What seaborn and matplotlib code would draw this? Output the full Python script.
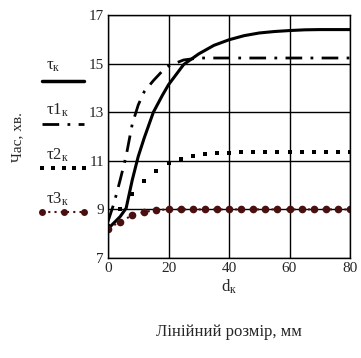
import numpy as np
import pandas as pd
import matplotlib
matplotlib.use('Agg')
import matplotlib.pyplot as plt
import seaborn as sns
from matplotlib.lines import Line2D

# data
d = [0, 2, 4, 6, 8, 10, 12, 15, 18, 20, 25, 30, 35, 40, 45, 50, 55, 60, 65, 70, 75, 80]
tau = [8.2, 8.45, 8.7, 9.05, 10.2, 11.18, 11.95, 13.0, 13.7, 14.13, 14.96, 15.4, 15.75,
       15.98, 16.15, 16.26, 16.32, 16.36, 16.39, 16.4, 16.4, 16.4]
tau1 = [8.5, 9.26, 10.2, 11.2, 12.5, 13.3, 13.85, 14.3, 14.7, 14.9, 15.15, 15.23, 15.23,
        15.23, 15.23, 15.23, 15.23, 15.23, 15.23, 15.23, 15.23, 15.23]

# tau2 and tau3 are sampled every 4 mm in the picture
d_step = [0, 4, 8, 12, 16, 20, 24, 28, 32, 36, 40, 44, 48, 52, 56, 60, 64, 68, 72, 76, 80]
tau2 = [8.3, 9.0, 9.65, 10.16, 10.6, 10.9, 11.08, 11.2, 11.28, 11.32, 11.34, 11.35, 11.36,
        11.36, 11.36, 11.36, 11.36, 11.36, 11.36, 11.36, 11.36]
tau3 = [8.2, 8.5, 8.75, 8.9, 8.97, 9.0, 9.0, 9.0, 9.0, 9.0, 9.0, 9.0, 9.0,
        9.0, 9.0, 9.0, 9.0, 9.0, 9.0, 9.0, 9.0]

df = pd.DataFrame({'d': d, 't': tau, 't1': tau1})
df2 = pd.DataFrame({'d': d_step, 't2': tau2, 't3': tau3})

sns.set_style('white')
plt.rcParams['font.family'] = ['Liberation Serif', 'DejaVu Serif']
plt.rcParams['mathtext.fontset'] = 'custom'
plt.rcParams['mathtext.rm'] = 'Liberation Serif'
plt.rcParams['mathtext.it'] = 'Liberation Serif'

fig = plt.figure(figsize=(3.61, 3.58), dpi=100)
ax = fig.add_axes([108/361, 1 - 258/358, 242/361, 243/358])

maroon = '#4a0f0f'
sns.lineplot(data=df, x='d', y='t', ax=ax, color='black', lw=2.2)
sns.lineplot(data=df, x='d', y='t1', ax=ax, color='black', lw=2,
             linestyle=(0, (6, 3, 1, 3)))
sns.lineplot(data=df2, x='d', y='t2', ax=ax, color='black', lw=0, marker='s',
             markersize=3.5, markeredgewidth=0)
sns.lineplot(data=df2, x='d', y='t3', ax=ax, color=maroon, lw=1.5, linestyle=(0, (1, 2.5)),
             marker='o', markersize=5.5, markeredgewidth=0)

ax.set_xlim(0, 80)
ax.set_ylim(7, 17)
ax.set_xticks([0, 20, 40, 60, 80])
ax.set_yticks([7, 9, 11, 13, 15, 17])
ax.grid(True, color='black', lw=1)
for s in ax.spines.values():
    s.set_color('black')
    s.set_linewidth(1)
ax.tick_params(labelsize=11, length=0, pad=3)
ax.set_xlabel('')
ax.set_ylabel('')

fig.text(18/361, 1 - 137/358, 'Час, хв.', rotation=90, ha='center', va='center', fontsize=11)
fig.text(229/361, 1 - 287/358, r'd$_{\mathrm{к}}$', ha='center', va='center', fontsize=12)
fig.text(229/361, 1 - 332/358, 'Лінійний розмір, мм', ha='center', va='center', fontsize=12)

# legend, Mathcad style: label above each sample line
labels = ['τ$_{\\mathrm{к}}$', 'τ1$_{\\mathrm{к}}$', 'τ2$_{\\mathrm{к}}$', 'τ3$_{\\mathrm{к}}$']
text_y = [66, 110, 155, 199]
line_y = [81, 124, 168, 212]
styles = [dict(color='black', lw=2.5, ls='-'),
          dict(color='black', lw=2, ls=(0, (6, 3, 1, 3))),
          dict(color='black', lw=0, marker='s', markersize=3.5, markeredgewidth=0),
          dict(color=maroon, lw=1.5, ls=(0, (1, 2)), marker='o', markersize=5,
               markeredgewidth=0, markevery=[0, 2, 4])]
for lab, ty, ly, st in zip(labels, text_y, line_y, styles):
    fig.text(46/361, 1 - ty/358, lab, ha='left', va='center', fontsize=12)
    xs = [42/361, 53/361, 63.5/361, 74/361, 84/361]
    fig.add_artist(Line2D(xs, [1 - ly/358] * 5, transform=fig.transFigure, **st))

fig.savefig('out.png', dpi=100)
